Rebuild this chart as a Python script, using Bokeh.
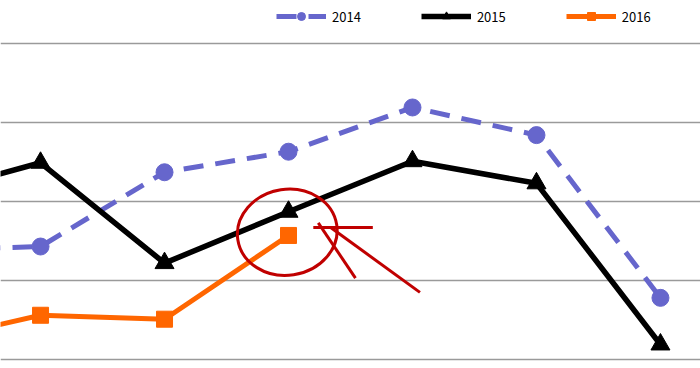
from bokeh.plotting import figure
from bokeh.models import Legend, LegendItem, FixedTicker, Range1d
from bokeh.embed import file_html
from bokeh.resources import INLINE

# data (x = category index; index 0 lies off the left edge of the crop)
x_pos = [0, 1, 2, 3, 4, 5, 6]
s2014 = [13.8, 14.3, 23.7, 26.3, 31.9, 28.4, 7.8]
s2015 = [20.6, 24.9, 12.2, 18.7, 25.1, 22.3, 1.9]
x2016 = [0, 1, 2, 3]
s2016 = [2.0, 5.6, 5.1, 15.7]
grid_ticks = [0, 10, 20, 30, 40]

# hand-drawn red annotation
ann_cx, ann_cy = [2.99], [16.1]
ann_xs = [[3.20, 3.68], [3.24, 3.54], [3.34, 4.06]]
ann_ys = [[16.7, 16.7], [17.3, 10.3], [16.7, 8.5]]

p = figure(width=700, height=368, output_backend="svg", toolbar_location=None,
           x_range=Range1d(0.677, 6.323), y_range=Range1d(-1.14, 45.44),
           min_border=0)
p.outline_line_color = None
p.xaxis.visible = False
p.yaxis.visible = False
p.xgrid.visible = False
p.ygrid.ticker = FixedTicker(ticks=grid_ticks)
p.ygrid.grid_line_color = "#9a9a9a"
p.ygrid.grid_line_width = 1.5

blue = "#6666CC"
orange = "#FF6600"

l14 = p.line(x_pos, s2014, line_color=blue, line_width=5, line_dash="20 12")
m14 = p.scatter(x_pos, s2014, marker="circle", size=17, fill_color=blue, line_color=blue)
l15 = p.line(x_pos, s2015, line_color="black", line_width=5.5)
m15 = p.scatter(x_pos, s2015, marker="triangle", size=19, fill_color="black", line_color="black")
l16 = p.line(x2016, s2016, line_color=orange, line_width=5)
m16 = p.scatter(x2016, s2016, marker="square", size=16, fill_color=orange, line_color=orange)

# annotation
p.ellipse(ann_cx, ann_cy, width=100, height=86, width_units="screen", height_units="screen",
          angle=0.15, fill_color=None, line_color="#C00000", line_width=3)
p.multi_line(ann_xs, ann_ys, line_color="#C00000", line_width=3)

legend = Legend(items=[
    LegendItem(label="2014", renderers=[l14, m14]),
    LegendItem(label="2015", renderers=[l15, m15]),
    LegendItem(label="2016", renderers=[l16, m16]),
], orientation="horizontal", location=(276, 342), glyph_width=50, glyph_height=20,
    label_standoff=6, spacing=60, padding=0, margin=0, border_line_color=None,
    background_fill_alpha=0, label_text_font="Noto Sans CJK JP", label_text_font_size="13px",
    label_text_color="black")
p.add_layout(legend, "center")

open("out.html", "w").write(file_html(p, INLINE))
